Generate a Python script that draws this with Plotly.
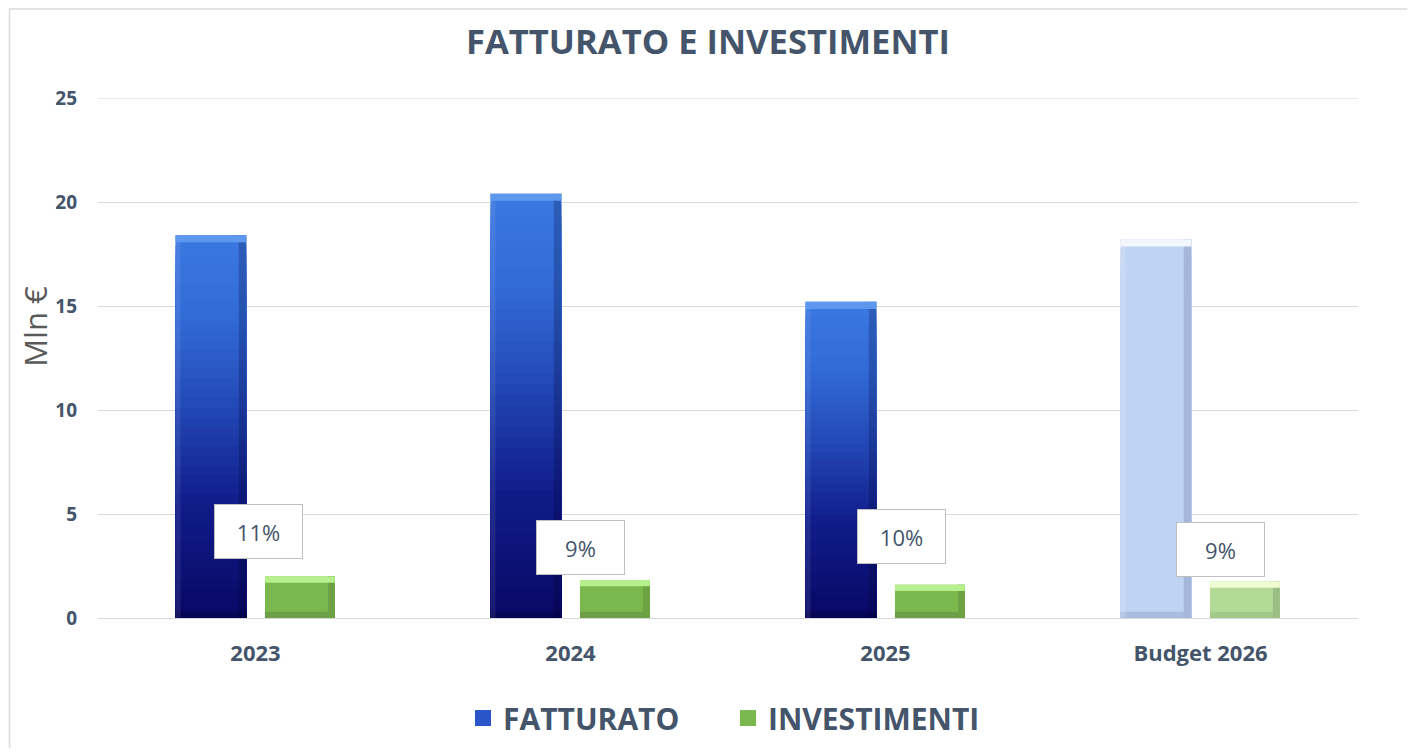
import plotly.graph_objects as go

# ---------------- data ----------------
categories = ["2023", "2024", "2025", "Budget 2026"]
fatturato = [18.4, 20.4, 15.2, 18.2]
investimenti = [2.0, 1.83, 1.6, 1.75]
pct_labels = ["11%", "9%", "10%", "9%"]
is_budget = [False, False, False, True]

# ---------------- styling / layout config ----------------
label_y = [4.15, 3.39, 3.92, 3.27]        # vertical position of the % boxes (axis units)
label_xshift = [3, 10, 16, 20]            # px shift of the % boxes
F_OFF, F_W = -0.254, 0.225                # fatturato bar offset / width (category units)
I_OFF, I_W = 0.030, 0.222                 # investimenti bar offset / width
Y_MAX = 25
FONT = "Open Sans"
TXT = "#44546A"

grad_stops = [(0.0, (8, 8, 100)), (0.3, (16, 28, 138)), (0.55, (34, 72, 182)),
              (0.78, (50, 106, 214)), (1.0, (58, 120, 226))]


def grad(t):
    for (t0, c0), (t1, c1) in zip(grad_stops[:-1], grad_stops[1:]):
        if t <= t1:
            f = (t - t0) / (t1 - t0)
            c = [round(a + (b - a) * f) for a, b in zip(c0, c1)]
            return "rgb({},{},{})".format(*c)
    return "rgb({},{},{})".format(*grad_stops[-1][1])


fig = go.Figure()

# legend entries (legend-only, big square symbols)
fig.add_trace(go.Scatter(x=[None], y=[None], mode="markers", name="FATTURATO",
                         marker=dict(symbol="square", size=19, color="#2A55C8",
                                     line=dict(width=0)),
                         legendgroup="F", showlegend=True, hoverinfo="skip"))
fig.add_trace(go.Scatter(x=[None], y=[None], mode="markers", name="INVESTIMENTI",
                         marker=dict(symbol="square", size=19, color="#7AB84E",
                                     line=dict(width=0)),
                         legendgroup="I", showlegend=True, hoverinfo="skip"))

# Fatturato: stepped vertical gradient built from stacked overlay layers
N = 40
for k in range(N, 0, -1):
    t = (k - 0.5) / N
    cols = ["#BFD3F3" if b else grad(t) for b in is_budget]
    fig.add_trace(go.Bar(
        x=categories, y=[v * k / N for v in fatturato],
        offset=F_OFF, width=F_W, marker=dict(color=cols, line=dict(width=0)),
        name="FATTURATO", legendgroup="F", showlegend=False,
        hoverinfo="skip"))

# Fatturato bevels
fig.add_trace(go.Bar(x=categories, y=[0.3] * 4, base=[0] * 4,
                     offset=F_OFF, width=F_W,
                     marker=dict(color=["rgba(0,0,40,0.25)" if not b else "#A9BDE0" for b in is_budget],
                                 line=dict(width=0)),
                     showlegend=False, hoverinfo="skip"))
fig.add_trace(go.Bar(x=categories, y=fatturato,
                     offset=F_OFF + F_W - 0.024, width=0.024,
                     marker=dict(color=["rgba(0,0,40,0.22)" if not b else "#A4B6D9" for b in is_budget],
                                 line=dict(width=0)),
                     showlegend=False, hoverinfo="skip"))
fig.add_trace(go.Bar(x=categories, y=fatturato,
                     offset=F_OFF, width=0.016,
                     marker=dict(color=["rgba(255,255,255,0.08)" if not b else "rgba(255,255,255,0.15)" for b in is_budget],
                                 line=dict(width=0)),
                     showlegend=False, hoverinfo="skip"))
fig.add_trace(go.Bar(x=categories, y=[0.34] * 4, base=[v - 0.34 for v in fatturato],
                     offset=F_OFF, width=F_W,
                     marker=dict(color=["#5E98EE" if not b else "#F3F7FD" for b in is_budget],
                                 line=dict(width=0)),
                     showlegend=False, hoverinfo="skip"))

# Investimenti
fig.add_trace(go.Bar(x=categories, y=investimenti,
                     offset=I_OFF, width=I_W,
                     marker=dict(color=["#B3DA96" if b else "#7AB84E" for b in is_budget],
                                 line=dict(width=0)),
                     name="INVESTIMENTI", legendgroup="I", showlegend=False,
                     hoverinfo="x+y"))
fig.add_trace(go.Bar(x=categories, y=[0.3] * 4, base=[0] * 4,
                     offset=I_OFF, width=I_W,
                     marker=dict(color=["#A3C98A" if b else "#6E9F48" for b in is_budget],
                                 line=dict(width=0)),
                     showlegend=False, hoverinfo="skip"))
fig.add_trace(go.Bar(x=categories, y=investimenti,
                     offset=I_OFF + I_W - 0.022, width=0.022,
                     marker=dict(color=["#9CBE85" if b else "#6CA244" for b in is_budget],
                                 line=dict(width=0)),
                     showlegend=False, hoverinfo="skip"))
fig.add_trace(go.Bar(x=categories, y=[0.3] * 4, base=[v - 0.3 for v in investimenti],
                     offset=I_OFF, width=I_W,
                     marker=dict(color=["#F0FCD2" if b else "#B6F08C" for b in is_budget],
                                 line=dict(width=0)),
                     showlegend=False, hoverinfo="skip"))

# percentage boxes (x given as category index)
for i, (txt, yv, dx) in enumerate(zip(pct_labels, label_y, label_xshift)):
    fig.add_annotation(x=i, y=yv, xref="x", yref="y", text=txt, showarrow=False, xshift=dx,
                       font=dict(family=FONT, size=22, color=TXT),
                       bgcolor="white", bordercolor="#BFBFBF", borderwidth=1,
                       width=85, height=51, borderpad=1)

# y axis title
fig.add_annotation(x=-0.05, y=0.56, xref="paper", yref="paper", text="Mln €",
                   textangle=-90, showarrow=False, xanchor="center", yanchor="middle",
                   font=dict(family=FONT, size=31, color="#595959"))

# top gridline (at the edge of the plot area)
fig.add_shape(type="line", xref="paper", yref="y", x0=0, x1=1, y0=Y_MAX, y1=Y_MAX,
              line=dict(color="#D9D9D9", width=1), layer="below")

# outer chart border
fig.add_shape(type="rect", xref="paper", yref="paper",
              x0=-0.0702, x1=1.0413, y0=-0.27, y1=1.171,
              line=dict(color="#D9D9D9", width=1.5), fillcolor="rgba(0,0,0,0)", layer="below")

fig.update_layout(
    width=1400, height=740,
    margin=dict(l=90, r=50, t=90, b=130, autoexpand=False),
    paper_bgcolor="white", plot_bgcolor="white",
    barmode="overlay",
    title=dict(text="<b>FATTURATO E INVESTIMENTI</b>", x=0.5, xanchor="center",
               y=0.954, yanchor="middle",
               font=dict(family=FONT, size=34.6, color=TXT)),
    font=dict(family=FONT, color=TXT),
    legend=dict(orientation="h", x=0.5, xanchor="center",
                yref="container", y=0.0405, yanchor="middle",
                font=dict(family=FONT, size=30, color=TXT, weight="bold"),
                itemwidth=30, traceorder="normal", entrywidth=220, entrywidthmode="pixels"),
    showlegend=True,
)
fig.update_xaxes(type="category", categoryorder="array", categoryarray=categories,
                 range=[-0.5, 3.5], autorange=False,
                 showgrid=False, showline=True, linecolor="#D9D9D9", linewidth=1,
                 ticks="", tickfont=dict(family=FONT, size=22, color=TXT, weight="bold"),
                 ticklabelstandoff=16)
fig.update_yaxes(range=[0, Y_MAX], tick0=0, dtick=5, showgrid=True, gridcolor="#D9D9D9", gridwidth=1,
                 zeroline=False, showline=False, ticks="",
                 tickfont=dict(family=FONT, size=19, color=TXT, weight="bold"),
                 ticklabelstandoff=20)

fig.write_html("out.html")
